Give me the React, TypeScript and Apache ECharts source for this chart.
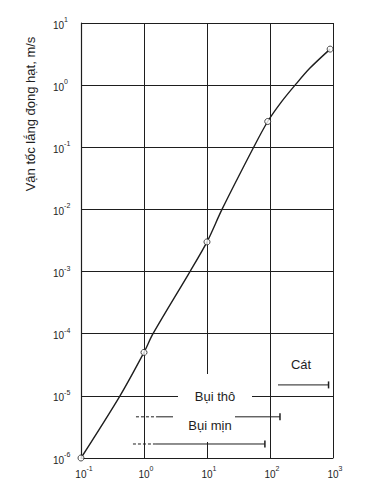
import React, { useEffect, useRef } from "react";
import * as echarts from "echarts";

// Particle diameter (µm) vs settling velocity (m/s)
const curveX = [0.1, 0.416, 1, 1.39, 5.37, 10, 17.3, 55, 92, 155, 250, 431, 900];
const curveY = [1e-6, 1e-5, 5e-5, 1e-4, 1e-3, 3e-3, 1e-2, 0.1, 0.26, 0.552, 1, 1.88, 3.8];
const markX = [0.1, 1, 10, 92, 900];
const markY = [1e-6, 5e-5, 3e-3, 0.26, 3.8];

// size range bars: [dashedStart, solidStart, end, level]
const sandRange = [134, 134, 850, 1.5e-5];
const coarseRange = [0.746, 1.6, 144, 4.6e-6];
const fineRange = [0.668, 1.5, 83, 1.68e-6];

const labelSand = "Cát";
const labelCoarse = "Bụi thô";
const labelFine = "Bụi mịn";
const yTitle = "Vận tốc lắng đọng hạt, m/s";

const INK = "#1e1e1e";
const FONT = "'Liberation Sans', Arial, sans-serif";

function expLabel(v: number, pad: boolean) {
  const e = Math.round(Math.log10(v));
  const s = e < 0 ? "-" + -e : String(e);
  const p = pad ? (s.length > 1 ? "{p2|}" : "{p1|}") : "";
  return p + "{b|10}{s|" + s + "}";
}

const rich = {
  b: { fontSize: 10, lineHeight: 14, verticalAlign: "bottom", color: INK, fontFamily: FONT },
  s: { fontSize: 7, lineHeight: 10, verticalAlign: "top", color: INK, fontFamily: FONT },
  p1: { width: 4, lineHeight: 14 },
  p2: { width: 6, lineHeight: 14 },
};

function rangeSeries(r: number[]) {
  const [a, b, c, y] = r;
  const out: any[] = [];
  if (b > a) {
    out.push({
      type: "line",
      data: [[a, y], [b, y]],
      symbol: "none",
      lineStyle: { color: INK, width: 1, type: [3, 2] },
      z: 3,
    });
  }
  out.push({
    type: "line",
    data: [
      { value: [b, y], symbol: "none" },
      { value: [c, y], symbol: "rect", symbolSize: [1.5, 7] },
    ],
    lineStyle: { color: INK, width: 1 },
    itemStyle: { color: INK },
    z: 3,
  });
  return out;
}

export default function App() {
  const ref = useRef<HTMLDivElement>(null);
  useEffect(() => {
    if (!ref.current) return;
    const chart = echarts.init(ref.current, undefined, { renderer: "svg" });
    const curve = curveX.map((x, i) => [x, curveY[i]]);
    const marks = markX.map((x, i) => [x, markY[i]]);
    chart.setOption({
      animation: false,
      backgroundColor: "#ffffff",
      grid: { left: 81, right: 39, top: 23, bottom: 28 },
      xAxis: {
        type: "log",
        logBase: 10,
        min: 0.1,
        max: 1000,
        interval: 1,
        splitNumber: 4,
        axisLine: { show: true, lineStyle: { color: INK, width: 1 } },
        axisTick: { show: false },
        splitLine: { show: true, lineStyle: { color: INK, width: 1 } },
        minorTick: { show: false },
        axisLabel: { margin: 7, formatter: (v: number) => expLabel(v, true), rich },
      },
      yAxis: {
        type: "log",
        logBase: 10,
        min: 1e-6,
        max: 10,
        interval: 1,
        splitNumber: 7,
        axisLine: { show: true, lineStyle: { color: INK, width: 1.2 } },
        axisTick: { show: false },
        splitLine: { show: true, lineStyle: { color: INK, width: 1 } },
        axisLabel: { margin: 28, align: "left", formatter: (v: number) => expLabel(v, false), rich },
      },
      series: [
        {
          type: "line",
          data: curve,
          smooth: 0.3,
          symbol: "none",
          lineStyle: { color: INK, width: 1.4 },
          z: 4,
        },
        {
          type: "scatter",
          data: marks,
          symbol: "circle",
          symbolSize: 6,
          clip: false,
          itemStyle: { color: "#ffffff", borderColor: INK, borderWidth: 1 },
          z: 5,
        },
        ...rangeSeries(sandRange),
        ...rangeSeries(coarseRange),
        ...rangeSeries(fineRange),
      ],
      graphic: {
        elements: [
          { type: "rect", z: 100, shape: { x: 178, y: 374, width: 74, height: 36 }, style: { fill: "#ffffff" } },
          { type: "rect", z: 100, shape: { x: 173, y: 410, width: 62, height: 32 }, style: { fill: "#ffffff" } },
          {
            type: "text", z: 101, x: 215, y: 396,
            style: { text: labelCoarse, fill: INK, font: "13px " + FONT, textAlign: "center", textVerticalAlign: "middle" },
          },
          {
            type: "text", z: 101, x: 210, y: 425,
            style: { text: labelFine, fill: INK, font: "13px " + FONT, textAlign: "center", textVerticalAlign: "middle" },
          },
          {
            type: "text", z: 101, x: 301, y: 364,
            style: { text: labelSand, fill: INK, font: "13px " + FONT, textAlign: "center", textVerticalAlign: "middle" },
          },
          {
            type: "text", z: 101, x: 30, y: 114, rotation: Math.PI / 2,
            style: { text: yTitle, fill: INK, font: "13px " + FONT, textAlign: "center", textVerticalAlign: "middle" },
          },
        ],
      },
    });
    return () => chart.dispose();
  }, []);
  return <div ref={ref} style={{ position: "fixed", left: 0, top: 0, width: 372, height: 486 }} />;
}
